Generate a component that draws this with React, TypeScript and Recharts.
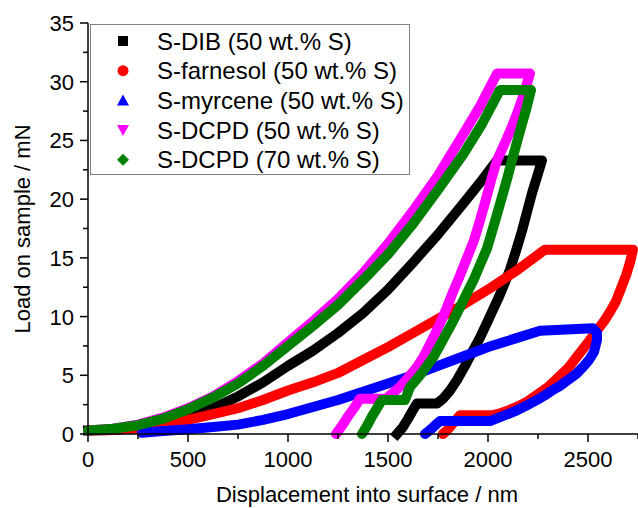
import { LineChart, Line, XAxis, YAxis, Legend, Label } from 'recharts'

// points are [displacement nm, load mN] in drawing order
const dibPoints = [
  [0, 0.3], [125, 0.35], [250, 0.5], [375, 0.9], [500, 1.5], [625, 2.2], [750, 3.2], [875, 4.4], [1000, 5.8],
  [1125, 7.1], [1250, 8.6], [1375, 10.3], [1500, 12.3], [1625, 14.6], [1750, 17.0], [1875, 19.6], [1960, 21.4], [2045, 23.3],
  [2270, 23.3],
  [2245, 21.9], [2220, 20.5], [2195, 18.9], [2170, 17.3], [2140, 15.6], [2110, 14.0], [2080, 12.7], [2050, 11.5],
  [2020, 10.4], [1990, 9.3], [1960, 8.2], [1925, 7.1], [1885, 5.8], [1845, 4.6], [1810, 3.7], [1775, 3.0], [1745, 2.6],
  [1645, 2.6],
  [1620, 1.9], [1600, 1.3], [1575, 0.6], [1545, 0],
]
const farnesolPoints = [
  [0, 0.3], [125, 0.35], [250, 0.5], [375, 0.8], [500, 1.2], [625, 1.7], [750, 2.2], [875, 2.9], [1000, 3.7],
  [1125, 4.4], [1250, 5.2], [1375, 6.3], [1500, 7.4], [1625, 8.6], [1750, 9.8], [1875, 11.0], [2000, 12.3],
  [2150, 14.0], [2285, 15.7],
  [2725, 15.7],
  [2710, 14.6], [2690, 13.5], [2665, 12.4], [2640, 11.3], [2610, 10.4], [2580, 9.6], [2540, 8.7], [2500, 7.8],
  [2450, 6.7], [2400, 5.6], [2350, 4.8], [2300, 4.0], [2250, 3.4], [2200, 2.8], [2150, 2.35], [2100, 2.0],
  [2060, 1.75], [2025, 1.6],
  [1860, 1.6],
  [1840, 1.2], [1820, 0.8], [1800, 0.4], [1775, 0],
]
const myrcenePoints = [
  [270, 0.1], [375, 0.25], [500, 0.4], [625, 0.6], [750, 0.8], [875, 1.2], [1000, 1.7], [1125, 2.3], [1250, 2.9],
  [1375, 3.6], [1500, 4.3], [1625, 5.0], [1750, 5.8], [1875, 6.6], [2000, 7.4], [2130, 8.1], [2260, 8.8],
  [2525, 9.0],
  [2545, 8.6], [2545, 8.0], [2530, 7.0], [2505, 6.3], [2475, 5.7], [2440, 5.1], [2400, 4.6], [2360, 4.1],
  [2320, 3.7], [2285, 3.3], [2245, 2.9], [2190, 2.4], [2130, 1.9], [2070, 1.5], [2010, 1.1],
  [1760, 1.1],
  [1740, 0.8], [1720, 0.5], [1700, 0.2], [1685, 0],
]
const dcpd50Points = [
  [0, 0.3], [125, 0.45], [250, 0.8], [375, 1.4], [500, 2.2], [625, 3.2], [750, 4.5], [875, 6.0], [1000, 7.8],
  [1125, 9.6], [1250, 11.5], [1375, 13.7], [1500, 16.2], [1625, 19.0], [1750, 22.0], [1875, 25.5], [1960, 27.9], [2045, 30.7],
  [2210, 30.7],
  [2180, 29.0], [2150, 27.5], [2120, 26.2], [2090, 25.0], [2045, 23.3], [2015, 21.6], [1990, 20.0], [1960, 18.2],
  [1930, 16.5], [1895, 15.0], [1860, 13.5], [1825, 12.1], [1795, 10.8], [1765, 9.6], [1735, 8.5], [1705, 7.5],
  [1675, 6.5], [1640, 5.6], [1600, 4.8], [1565, 4.1], [1525, 3.5], [1490, 3.0],
  [1360, 3.0],
  [1330, 2.2], [1300, 1.5], [1270, 0.7], [1240, 0],
]
const dcpd70Points = [
  [0, 0.3], [125, 0.45], [250, 0.75], [375, 1.3], [500, 2.1], [625, 3.1], [750, 4.3], [875, 5.8], [1000, 7.5],
  [1125, 9.2], [1250, 11.0], [1375, 13.1], [1500, 15.3], [1625, 17.9], [1750, 20.8], [1875, 23.8], [1970, 26.4], [2060, 29.3],
  [2215, 29.3],
  [2190, 27.6], [2170, 26.4], [2150, 25.2], [2120, 23.3], [2095, 21.7], [2070, 20.2], [2050, 19.0], [2030, 17.8],
  [1995, 15.8], [1960, 14.4], [1930, 13.2], [1895, 12.0], [1860, 10.8], [1825, 9.6], [1790, 8.5], [1755, 7.4],
  [1725, 6.5], [1695, 5.8], [1665, 5.1], [1635, 4.5], [1610, 4.0], [1585, 2.9],
  [1470, 2.9],
  [1445, 2.2], [1420, 1.5], [1395, 0.7], [1370, 0],
]

const seriesNames = ['S-DIB (50 wt.% S)', 'S-farnesol (50 wt.% S)', 'S-myrcene (50 wt.% S)', 'S-DCPD (50 wt.% S)', 'S-DCPD (70 wt.% S)']
const seriesColors = ['#000000', '#ff0000', '#0000ff', '#ff00ff', '#008000']
const seriesPoints = [dibPoints, farnesolPoints, myrcenePoints, dcpd50Points, dcpd70Points]

const xTicks = [0, 250, 500, 750, 1000, 1250, 1500, 1750, 2000, 2250, 2500, 2750]
const yTicks = [0, 2.5, 5, 7.5, 10, 12.5, 15, 17.5, 20, 22.5, 25, 27.5, 30, 32.5, 35]

const FONT = 'Arial, "Liberation Sans", sans-serif'

const XTick = (props: any) => {
  const { x, y, payload } = props
  const major = payload.value % 500 === 0
  return (
    <g>
      <line x1={x} y1={y} x2={x} y2={y + (major ? 8 : 5)} stroke="#000" strokeWidth={1.5} />
      {major && (
        <text x={x} y={y + 33} textAnchor="middle" fontSize={22} fontFamily={FONT} fill="#000">
          {payload.value}
        </text>
      )}
    </g>
  )
}

const YTick = (props: any) => {
  const { x, y, payload } = props
  const major = payload.value % 5 === 0
  return (
    <g>
      <line x1={x - (major ? 8 : 5)} y1={y} x2={x} y2={y} stroke="#000" strokeWidth={1.5} />
      {major && (
        <text x={x - 14} y={y + 8} textAnchor="end" fontSize={22} fontFamily={FONT} fill="#000">
          {payload.value}
        </text>
      )}
    </g>
  )
}

function Marker({ i, cx, cy }: { i: number; cx: number; cy: number }) {
  const c = seriesColors[i]
  if (i === 0) return <rect x={cx - 5} y={cy - 5} width={10} height={10} fill={c} />
  if (i === 1) return <circle cx={cx} cy={cy} r={5.5} fill={c} />
  if (i === 2) return <polygon points={`${cx - 6},${cy + 5} ${cx + 6},${cy + 5} ${cx},${cy - 6}`} fill={c} />
  if (i === 3) return <polygon points={`${cx - 6},${cy - 5} ${cx + 6},${cy - 5} ${cx},${cy + 6}`} fill={c} />
  return <polygon points={`${cx},${cy - 6} ${cx + 6},${cy} ${cx},${cy + 6} ${cx - 6},${cy}`} fill={c} />
}

const renderLegend = () => (
  <svg width={320} height={151} style={{ display: 'block' }}>
    <rect x={0.5} y={0.5} width={319} height={150} fill="#fff" stroke="#808080" strokeWidth={1} />
    {seriesNames.map((name, i) => {
      const cy = 17 + i * 29.7
      return (
        <g key={name}>
          <Marker i={i} cx={33} cy={cy} />
          <text x={67} y={cy + 8.5} fontSize={24} fontFamily={FONT} fill="#000">
            {name}
          </text>
        </g>
      )
    })}
  </svg>
)

export default function App() {
  return (
    <div style={{ position: 'absolute', left: 0, top: 0, background: '#fff' }}>
      <LineChart width={638} height={508} margin={{ top: 23, right: 0, bottom: 0, left: 0 }}>
        <XAxis
          dataKey="x"
          type="number"
          domain={[0, 2750]}
          ticks={xTicks}
          interval={0}
          height={74}
          tickSize={0}
          tickMargin={0}
          tickLine={false}
          tick={<XTick />}
          axisLine={{ stroke: '#000', strokeWidth: 1.5 }}
          allowDuplicatedCategory={false}
        >
          <Label
            content={() => (
              <text x={367} y={502} textAnchor="middle" fontSize={22} fontFamily={FONT} fill="#000">
                Displacement into surface / nm
              </text>
            )}
          />
        </XAxis>
        <YAxis
          type="number"
          domain={[0, 35]}
          ticks={yTicks}
          interval={0}
          width={88}
          tickSize={0}
          tickMargin={0}
          tickLine={false}
          tick={<YTick />}
          axisLine={{ stroke: '#000', strokeWidth: 1.5 }}
        >
          <Label
            content={() => (
              <text x={30} y={229} transform="rotate(-90, 30, 229)" textAnchor="middle" fontSize={22} fontFamily={FONT} fill="#000">
                Load on sample / mN
              </text>
            )}
          />
        </YAxis>
        {seriesPoints.map((pts, i) => (
          <Line
            key={seriesNames[i]}
            name={seriesNames[i]}
            data={pts.map(([x, y]) => ({ x, y }))}
            dataKey="y"
            type="linear"
            stroke={seriesColors[i]}
            strokeWidth={10}
            strokeLinejoin="round"
            strokeLinecap={i === 0 ? 'square' : 'round'}
            dot={false}
            activeDot={false}
            isAnimationActive={false}
          />
        ))}
        <Legend
          layout="horizontal"
          verticalAlign="middle"
          align="center"
          content={renderLegend}
          wrapperStyle={{ position: 'absolute', left: 90, top: 24, width: 320, height: 151 }}
        />
      </LineChart>
    </div>
  )
}
